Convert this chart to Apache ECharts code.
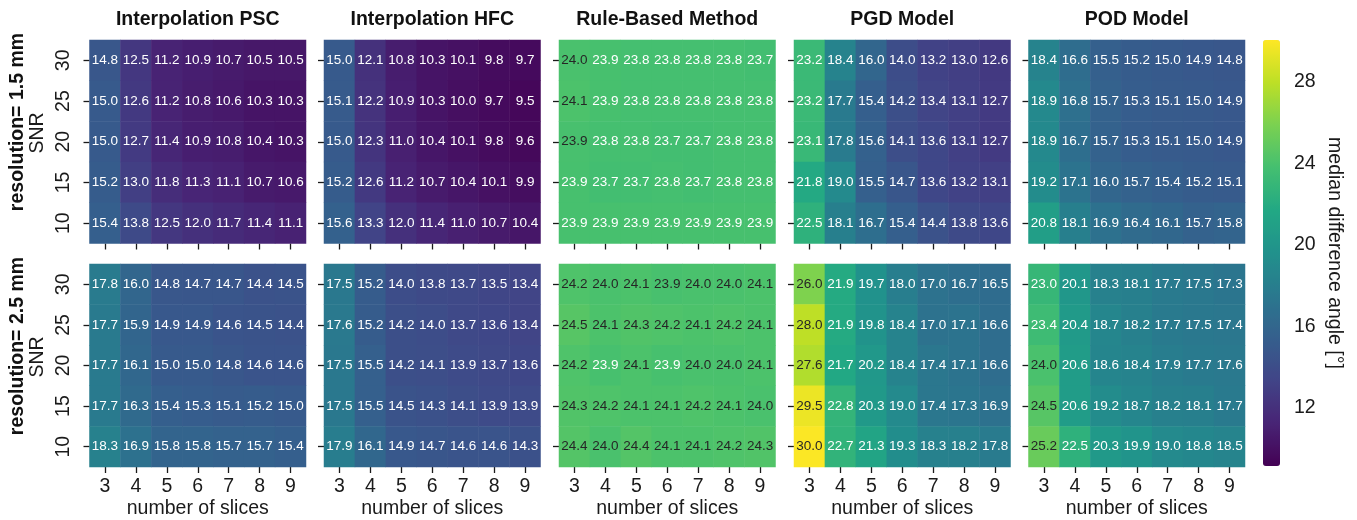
<!DOCTYPE html>
<html>
<head>
<meta charset="utf-8">
<title>median difference angle</title>
<script src="https://cdn.jsdelivr.net/npm/echarts@6/dist/echarts.min.js"></script>
<style>
    html, body { margin: 0; padding: 0; background: #fff; }
    #chart { width: 1357px; height: 520px; }
</style>
</head>
<body>
<div id="chart"></div>
<script>
var slices = ['3', '4', '5', '6', '7', '8', '9'];
var snr = ['10', '15', '20', '25', '30'];
var methods = ['Interpolation PSC', 'Interpolation HFC', 'Rule-Based Method', 'PGD Model', 'POD Model'];
var resolutions = ['resolution= 1.5 mm', 'resolution= 2.5 mm'];

// rows go from SNR 30 (top) down to SNR 10, columns are 3..9 slices
var pscRes15 = [
    [14.8, 12.5, 11.2, 10.9, 10.7, 10.5, 10.5],
    [15.0, 12.6, 11.2, 10.8, 10.6, 10.3, 10.3],
    [15.0, 12.7, 11.4, 10.9, 10.8, 10.4, 10.3],
    [15.2, 13.0, 11.8, 11.3, 11.1, 10.7, 10.6],
    [15.4, 13.8, 12.5, 12.0, 11.7, 11.4, 11.1]
];
var hfcRes15 = [
    [15.0, 12.1, 10.8, 10.3, 10.1, 9.8, 9.7],
    [15.1, 12.2, 10.9, 10.3, 10.0, 9.7, 9.5],
    [15.0, 12.3, 11.0, 10.4, 10.1, 9.8, 9.6],
    [15.2, 12.6, 11.2, 10.7, 10.4, 10.1, 9.9],
    [15.6, 13.3, 12.0, 11.4, 11.0, 10.7, 10.4]
];
var ruleRes15 = [
    [24.0, 23.9, 23.8, 23.8, 23.8, 23.8, 23.7],
    [24.1, 23.9, 23.8, 23.8, 23.8, 23.8, 23.8],
    [23.94, 23.8, 23.8, 23.7, 23.7, 23.8, 23.8],
    [23.9, 23.7, 23.7, 23.8, 23.7, 23.8, 23.8],
    [23.9, 23.9, 23.9, 23.9, 23.9, 23.9, 23.9]
];
var pgdRes15 = [
    [23.2, 18.4, 16.0, 14.0, 13.2, 13.0, 12.6],
    [23.2, 17.7, 15.4, 14.2, 13.4, 13.1, 12.7],
    [23.1, 17.8, 15.6, 14.1, 13.6, 13.1, 12.7],
    [21.8, 19.0, 15.5, 14.7, 13.6, 13.2, 13.1],
    [22.5, 18.1, 16.7, 15.4, 14.4, 13.8, 13.6]
];
var podRes15 = [
    [18.4, 16.6, 15.5, 15.2, 15.0, 14.9, 14.8],
    [18.9, 16.8, 15.7, 15.3, 15.1, 15.0, 14.9],
    [18.9, 16.7, 15.7, 15.3, 15.1, 15.0, 14.9],
    [19.2, 17.1, 16.0, 15.7, 15.4, 15.2, 15.1],
    [20.8, 18.1, 16.9, 16.4, 16.1, 15.7, 15.8]
];
var pscRes25 = [
    [17.8, 16.0, 14.8, 14.7, 14.7, 14.4, 14.5],
    [17.7, 15.9, 14.9, 14.9, 14.6, 14.5, 14.4],
    [17.7, 16.1, 15.0, 15.0, 14.8, 14.6, 14.6],
    [17.7, 16.3, 15.4, 15.3, 15.1, 15.2, 15.0],
    [18.3, 16.9, 15.8, 15.8, 15.7, 15.7, 15.4]
];
var hfcRes25 = [
    [17.5, 15.2, 14.0, 13.8, 13.7, 13.5, 13.4],
    [17.6, 15.2, 14.2, 14.0, 13.7, 13.6, 13.4],
    [17.5, 15.5, 14.2, 14.1, 13.9, 13.7, 13.6],
    [17.5, 15.5, 14.5, 14.3, 14.1, 13.9, 13.9],
    [17.9, 16.1, 14.9, 14.7, 14.6, 14.6, 14.3]
];
var ruleRes25 = [
    [24.2, 24.0, 24.1, 23.94, 24.0, 24.0, 24.1],
    [24.5, 24.1, 24.3, 24.2, 24.1, 24.2, 24.1],
    [24.2, 23.9, 24.1, 23.9, 24.0, 24.0, 24.1],
    [24.3, 24.2, 24.1, 24.1, 24.2, 24.1, 24.0],
    [24.4, 24.0, 24.4, 24.1, 24.1, 24.2, 24.3]
];
var pgdRes25 = [
    [26.0, 21.9, 19.7, 18.0, 17.0, 16.7, 16.5],
    [28.0, 21.9, 19.8, 18.4, 17.0, 17.1, 16.6],
    [27.6, 21.7, 20.2, 18.4, 17.4, 17.1, 16.6],
    [29.5, 22.8, 20.3, 19.0, 17.4, 17.3, 16.9],
    [30.0, 22.7, 21.3, 19.3, 18.3, 18.2, 17.8]
];
var podRes25 = [
    [23.0, 20.1, 18.3, 18.1, 17.7, 17.5, 17.3],
    [23.4, 20.4, 18.7, 18.2, 17.7, 17.5, 17.4],
    [24.0, 20.6, 18.6, 18.4, 17.9, 17.7, 17.6],
    [24.5, 20.6, 19.2, 18.7, 18.2, 18.1, 17.7],
    [25.2, 22.5, 20.3, 19.9, 19.0, 18.8, 18.5]
];

var panels = [
    [pscRes15, hfcRes15, ruleRes15, pgdRes15, podRes15],
    [pscRes25, hfcRes25, ruleRes25, pgdRes25, podRes25]
];

var colorTicks = [12, 16, 20, 24, 28];
var colorMin = 9.15;
var colorMax = 30.05;
var colorLabel = 'median difference angle [°]';

var viridis = ['#440154', '#482475', '#414487', '#355f8d', '#2a788e', '#21918c',
    '#22a884', '#44bf70', '#7ad151', '#bddf26', '#fde725'];

var font = "'Liberation Sans', Arial, sans-serif";
var ink = '#1a1a1a';

var panelLeft = [89.5, 324, 559, 794, 1028.5];
var panelWidth = 216.5;
var panelTop = [40, 264];
var panelHeight = 203.5;

function buildCells(rows) {
    var cells = [];
    rows.forEach(function (row, i) {
        row.forEach(function (v, j) {
            cells.push({
                value: [j, snr.length - 1 - i, v],
                label: {color: v >= 23.92 ? '#262626' : '#ffffff'}
            });
        });
    });
    return cells;
}

function createChart() {
    var myChart = echarts.init(document.getElementById('chart'));

    var grids = [], xAxes = [], yAxes = [], series = [], titles = [], graphics = [];
    var tickStyle = {color: ink, width: 1.3};

    panels.forEach(function (rowPanels, r) {
        rowPanels.forEach(function (rows, c) {
            var idx = r * 5 + c;
            grids.push({left: panelLeft[c], top: panelTop[r], width: panelWidth, height: panelHeight});
            xAxes.push({
                type: 'category', gridIndex: idx, data: slices,
                axisLine: {show: false},
                axisTick: {show: true, alignWithLabel: true, length: 6, lineStyle: tickStyle},
                axisLabel: {show: r === 1, fontSize: 19.5, color: ink, margin: 10},
                name: r === 1 ? 'number of slices' : '',
                nameLocation: 'middle', nameGap: 32,
                nameTextStyle: {fontSize: 19.5, color: ink}
            });
            yAxes.push({
                type: 'category', gridIndex: idx, data: snr,
                axisLine: {show: false},
                axisTick: {show: true, alignWithLabel: true, length: 6, lineStyle: tickStyle},
                axisLabel: {show: c === 0, rotate: 90, fontSize: 19.5, color: ink, margin: 16}
            });
            series.push({
                type: 'heatmap', xAxisIndex: idx, yAxisIndex: idx,
                data: buildCells(rows),
                label: {
                    show: true, fontSize: 13.5, fontFamily: font,
                    formatter: function (p) { return p.value[2].toFixed(1); }
                },
                itemStyle: {borderWidth: 0},
                emphasis: {disabled: true}
            });
            if (r === 0) {
                titles.push({
                    text: methods[c], left: panelLeft[c] + panelWidth / 2, top: 10,
                    textAlign: 'center', padding: 0,
                    textStyle: {fontSize: 19.5, fontWeight: 'bold', color: '#111', fontFamily: font}
                });
            }
        });

        // row labels on the left
        graphics.push({
            type: 'text', x: 18, y: panelTop[r] + 82, rotation: Math.PI / 2,
            style: {text: resolutions[r], fontSize: 19.5, fontWeight: 'bold', fontFamily: font, fill: '#111',
                align: 'center', verticalAlign: 'middle'}
        });
        graphics.push({
            type: 'text', x: 38, y: panelTop[r] + 93, rotation: Math.PI / 2,
            style: {text: 'SNR', fontSize: 19.5, fontFamily: font, fill: ink,
                align: 'center', verticalAlign: 'middle'}
        });
    });

    // colour bar axis
    grids.push({left: 1263, top: 40, width: 17, height: 426});
    xAxes.push({type: 'value', gridIndex: 10, show: false});
    yAxes.push({
        type: 'value', gridIndex: 10, position: 'right', min: colorMin, max: colorMax,
        axisLine: {show: false}, splitLine: {show: false},
        axisTick: {show: true, length: 5, customValues: colorTicks, lineStyle: tickStyle},
        axisLabel: {customValues: colorTicks, fontSize: 19.5, color: ink, margin: 14},
        name: colorLabel, nameLocation: 'middle', nameRotate: -90, nameGap: 44,
        nameTextStyle: {fontSize: 19.5, color: ink}
    });

    var option = {
        animation: false,
        textStyle: {fontFamily: font},
        title: titles,
        grid: grids,
        xAxis: xAxes,
        yAxis: yAxes,
        visualMap: {
            type: 'continuous', min: colorMin, max: colorMax, calculable: false,
            left: 1263, top: 40, itemWidth: 17, itemHeight: 426, padding: 0,
            hoverLink: false, seriesIndex: series.map(function (s, i) { return i; }),
            inRange: {color: viridis}
        },
        graphic: graphics,
        series: series
    };

    myChart.setOption(option);
}

createChart();
</script>
</body>
</html>
